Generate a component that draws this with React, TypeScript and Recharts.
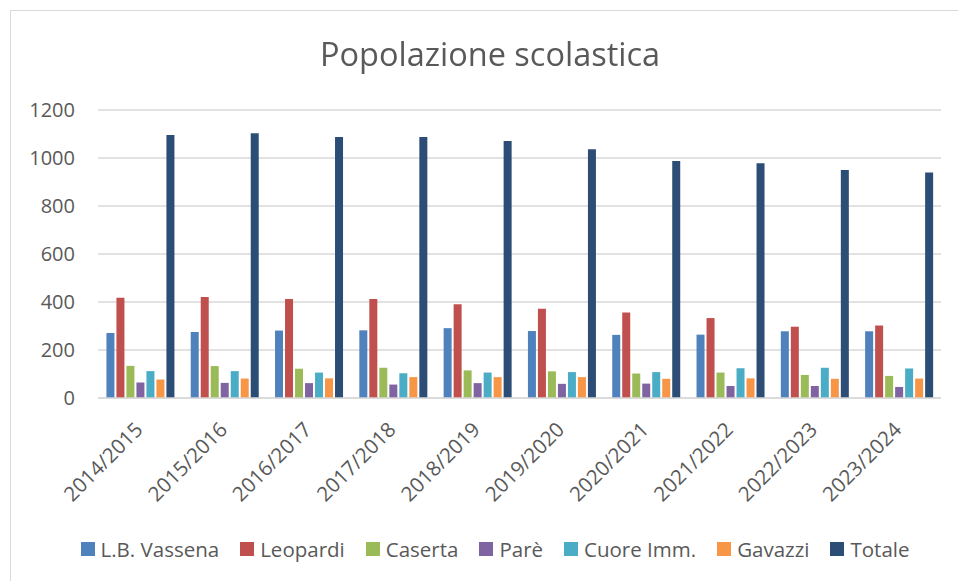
import { BarChart, Bar, XAxis, YAxis, CartesianGrid, Legend } from "recharts";

const categories = [
  "2014/2015",
  "2015/2016",
  "2016/2017",
  "2017/2018",
  "2018/2019",
  "2019/2020",
  "2020/2021",
  "2021/2022",
  "2022/2023",
  "2023/2024",
];

const vassena = [271, 275, 281, 282, 291, 279, 263, 264, 278, 278];
const leopardi = [418, 421, 412, 412, 391, 372, 356, 333, 297, 302];
const caserta = [134, 133, 122, 126, 115, 111, 102, 106, 96, 92];
const pare = [65, 63, 62, 56, 62, 59, 60, 50, 50, 46];
const cuore = [112, 112, 106, 103, 106, 108, 108, 124, 126, 123];
const gavazzi = [77, 81, 82, 87, 87, 87, 80, 82, 80, 81];
const totale = [1096, 1103, 1087, 1087, 1071, 1036, 988, 978, 950, 940];

const yTicks = [0, 200, 400, 600, 800, 1000, 1200];

const series = [
  { key: "vassena", name: "L.B. Vassena", color: "#4F81BD", values: vassena },
  { key: "leopardi", name: "Leopardi", color: "#C0504D", values: leopardi },
  { key: "caserta", name: "Caserta", color: "#9BBB59", values: caserta },
  { key: "pare", name: "Parè", color: "#8064A2", values: pare },
  { key: "cuore", name: "Cuore Imm.", color: "#4BACC6", values: cuore },
  { key: "gavazzi", name: "Gavazzi", color: "#F79646", values: gavazzi },
  { key: "totale", name: "Totale", color: "#2C4D75", values: totale },
];

const data = categories.map((anno, i) => {
  const row: any = { anno };
  series.forEach((s) => {
    row[s.key] = s.values[i];
  });
  return row;
});

const FONT = "'Open Sans', sans-serif";
const TEXT = "#595959";

function AnnoTick({ x, y, payload }: any) {
  return (
    <g transform={`translate(${x + 4},${y + 25})`}>
      <text
        transform="rotate(-45)"
        textAnchor="end"
        fill={TEXT}
        fontSize={20.5}
        fontFamily={FONT}
      >
        {payload.value}
      </text>
    </g>
  );
}

function Legenda() {
  return (
    <div
      style={{
        display: "flex",
        justifyContent: "center",
        alignItems: "center",
        height: 24,
        paddingLeft: 59,
        fontFamily: FONT,
        fontSize: 20.5,
        color: TEXT,
      }}
    >
      {series.map((s) => (
        <div key={s.key} style={{ display: "flex", alignItems: "center", marginRight: 21 }}>
          <span style={{ width: 14, height: 14, background: s.color, marginRight: 6 }} />
          <span>{s.name}</span>
        </div>
      ))}
    </div>
  );
}

export default function App() {
  return (
    <div
      style={{
        position: "fixed",
        left: 10,
        top: 10,
        width: 948,
        height: 571,
        borderLeft: "1px solid #d9d9d9",
        borderTop: "1px solid #d9d9d9",
        background: "#fff",
      }}
    >
      <div
        style={{
          position: "absolute",
          left: 0,
          width: 958,
          top: 20,
          textAlign: "center",
          fontFamily: FONT,
          fontSize: 32.5,
          color: TEXT,
          zIndex: 1,
        }}
      >
        Popolazione scolastica
      </div>
      <BarChart
        width={947}
        height={570}
        data={data}
        margin={{ top: 99, right: 17, bottom: 20, left: 0 }}
        barCategoryGap="10%"
        barGap={2}
      >
        <CartesianGrid vertical={false} stroke="#d9d9d9" strokeWidth={1.5} />
        <XAxis
          dataKey="anno"
          height={139}
          interval={0}
          tickLine={false}
          axisLine={{ stroke: "#d9d9d9", strokeWidth: 1.5 }}
          tick={<AnnoTick />}
        />
        <YAxis
          width={87}
          domain={[0, 1200]}
          ticks={yTicks}
          axisLine={false}
          tickLine={false}
          tickMargin={17}
          tick={{ fill: TEXT, fontSize: 20, fontFamily: FONT }}
        />
        <Legend verticalAlign="bottom" content={<Legenda />} />
        {series.map((s) => (
          <Bar key={s.key} dataKey={s.key} name={s.name} fill={s.color} isAnimationActive={false} />
        ))}
      </BarChart>
    </div>
  );
}
